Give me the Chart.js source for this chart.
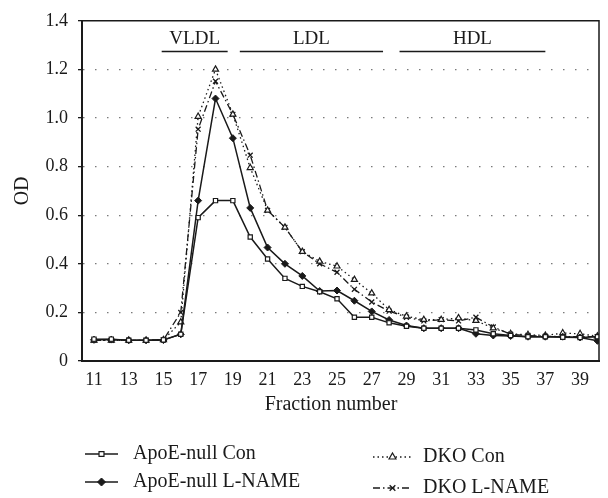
<!DOCTYPE html>
<html>
<head>
<meta charset="utf-8">
<script src="https://cdn.jsdelivr.net/npm/chart.js@4.4.0/dist/chart.umd.min.js"></script>
<style>
  html, body { margin: 0; padding: 0; background: #fff; }
  #wrap { width: 608px; height: 498px; }
</style>
</head>
<body>
<div id="wrap"><canvas id="odChart" width="608" height="498"></canvas></div>
<script>
// fraction numbers (x) and OD values
const fractions = [11, 12, 13, 14, 15, 16, 17, 18, 19, 20, 21, 22, 23, 24, 25, 26, 27, 28, 29, 30, 31, 32, 33, 34, 35, 36, 37, 38, 39, 40];
const apoeCon   = [0.090, 0.090, 0.085, 0.085, 0.087, 0.110, 0.590, 0.660, 0.660, 0.510, 0.420, 0.340, 0.307, 0.285, 0.256, 0.180, 0.180, 0.157, 0.143, 0.135, 0.135, 0.135, 0.128, 0.112, 0.105, 0.100, 0.100, 0.098, 0.097, 0.100];
const apoeLname = [0.087, 0.088, 0.085, 0.085, 0.086, 0.110, 0.660, 1.080, 0.917, 0.630, 0.467, 0.400, 0.350, 0.288, 0.290, 0.248, 0.204, 0.169, 0.146, 0.135, 0.135, 0.135, 0.112, 0.105, 0.103, 0.100, 0.100, 0.100, 0.097, 0.083];
const dkoCon    = [0.085, 0.085, 0.085, 0.085, 0.087, 0.160, 1.006, 1.200, 1.015, 0.795, 0.620, 0.550, 0.450, 0.410, 0.390, 0.335, 0.279, 0.211, 0.184, 0.170, 0.170, 0.177, 0.166, 0.135, 0.112, 0.108, 0.105, 0.115, 0.112, 0.102];
const dkoLname  = [0.085, 0.085, 0.085, 0.085, 0.087, 0.200, 0.954, 1.151, 1.015, 0.847, 0.620, 0.550, 0.450, 0.400, 0.365, 0.295, 0.243, 0.205, 0.180, 0.165, 0.170, 0.165, 0.180, 0.140, 0.110, 0.105, 0.102, 0.100, 0.100, 0.100];

const xTickLabels = [11, 13, 15, 17, 19, 21, 23, 25, 27, 29, 31, 33, 35, 37, 39];
const yTickLabels = [0, 0.2, 0.4, 0.6, 0.8, 1.0, 1.2, 1.4];

// lipoprotein bands over the peak (fraction ranges)
const bandNames = ['VLDL', 'LDL', 'HDL'];
const bandFrom  = [14.9, 19.4, 28.6];
const bandTo    = [18.7, 27.65, 37.0];

const serif = '"Liberation Serif", "DejaVu Serif", serif';
const ink = '#1a1a1a';

const toPoints = vals => vals.map((v, i) => ({ x: fractions[i], y: v }));

// legend slots: [sample start, sample end, text x, row y]
const legendSlots = [
    [85, 118, 133, 454],
    [85, 118, 133, 482],
    [373, 412, 423, 457],
    [373, 412, 423, 488]
];

const extras = {
    id: 'extras',
    afterDraw(chart) {
        const { ctx, chartArea: a, scales } = chart;
        const xs = scales.x, ys = scales.y;
        ctx.save();

        // top and right frame
        ctx.strokeStyle = ink;
        ctx.lineWidth = 1.5;
        ctx.beginPath();
        ctx.moveTo(a.left, a.top);
        ctx.lineTo(a.right, a.top);
        ctx.lineTo(a.right, a.bottom);
        ctx.stroke();

        // band labels
        ctx.font = '19px ' + serif;
        ctx.fillStyle = ink;
        ctx.textAlign = 'center';
        ctx.textBaseline = 'middle';
        bandNames.forEach((name, i) => {
            const x1 = xs.getPixelForValue(bandFrom[i]);
            const x2 = xs.getPixelForValue(bandTo[i]);
            const yl = ys.getPixelForValue(1.274);
            ctx.beginPath();
            ctx.moveTo(x1, yl);
            ctx.lineTo(x2, yl);
            ctx.stroke();
            ctx.fillText(name, (x1 + x2) / 2, ys.getPixelForValue(1.324));
        });

        // axis titles
        ctx.font = '20px ' + serif;
        ctx.fillText('Fraction number', 331, 405);
        ctx.save();
        ctx.translate(23, (a.top + a.bottom) / 2);
        ctx.rotate(-Math.PI / 2);
        ctx.fillText('OD', 0, 0);
        ctx.restore();

        // legend
        ctx.textAlign = 'left';
        chart.data.datasets.forEach((ds, i) => {
            const [s1, s2, tx, ty] = legendSlots[i];
            ctx.strokeStyle = ink;
            ctx.lineWidth = ds.borderWidth;
            ctx.setLineDash(ds.borderDash || []);
            ctx.beginPath();
            ctx.moveTo(s1, ty);
            ctx.lineTo(s2, ty);
            ctx.stroke();
            ctx.setLineDash([]);
            ctx.fillStyle = ds.pointBackgroundColor;
            ctx.lineWidth = ds.pointBorderWidth;
            Chart.helpers.drawPoint(ctx, {
                pointStyle: ds.pointStyle,
                radius: ds.pointRadius + 0.5,
                rotation: 0,
                borderWidth: ds.pointBorderWidth
            }, (s1 + s2) / 2, ty);
            ctx.fillStyle = ink;
            ctx.font = '20px ' + serif;
            ctx.fillText(ds.label, tx, ty);
        });

        ctx.restore();
    }
};

const ctx = document.getElementById('odChart').getContext('2d');

new Chart(ctx, {
    type: 'line',
    data: {
        datasets: [
            {
                label: 'ApoE-null Con',
                data: toPoints(apoeCon),
                borderColor: ink,
                borderWidth: 1.5,
                pointStyle: 'rect',
                pointRadius: 3,
                pointBackgroundColor: '#fff',
                pointBorderColor: ink,
                pointBorderWidth: 1.2
            },
            {
                label: 'ApoE-null L-NAME',
                data: toPoints(apoeLname),
                borderColor: ink,
                borderWidth: 1.5,
                pointStyle: 'rectRot',
                pointRadius: 3.5,
                pointBackgroundColor: ink,
                pointBorderColor: ink,
                pointBorderWidth: 1
            },
            {
                label: 'DKO Con',
                data: toPoints(dkoCon),
                borderColor: ink,
                borderWidth: 1.3,
                borderDash: [1.5, 3],
                pointStyle: 'triangle',
                pointRadius: 3.5,
                pointBackgroundColor: '#fff',
                pointBorderColor: ink,
                pointBorderWidth: 1.2
            },
            {
                label: 'DKO L-NAME',
                data: toPoints(dkoLname),
                borderColor: ink,
                borderWidth: 1.3,
                borderDash: [7, 3, 1.5, 3],
                pointStyle: 'crossRot',
                pointRadius: 3.5,
                pointBackgroundColor: ink,
                pointBorderColor: ink,
                pointBorderWidth: 1.3
            }
        ]
    },
    options: {
        responsive: false,
        animation: false,
        devicePixelRatio: 1,
        layout: { padding: { top: 16, right: 9, left: 0, bottom: 0 } },
        plugins: {
            legend: { display: false },
            tooltip: { enabled: false }
        },
        scales: {
            x: {
                type: 'linear',
                min: 10.31,
                max: 40.09,
                afterBuildTicks: scale => {
                    scale.ticks = xTickLabels.map(v => ({ value: v }));
                },
                afterFit: scale => { scale.height = 137; },
                grid: { display: false, drawTicks: false },
                border: { display: true, color: ink, width: 2 },
                ticks: {
                    autoSkip: false,
                    maxRotation: 0,
                    padding: 8,
                    color: ink,
                    font: { family: serif, size: 18 },
                    callback: v => String(v)
                }
            },
            y: {
                min: 0,
                max: 1.4,
                afterBuildTicks: scale => {
                    scale.ticks = yTickLabels.map(v => ({ value: v }));
                },
                afterFit: scale => { scale.width = 82; },
                grid: {
                    color: c => (c.tick && c.tick.value > 0 && c.tick.value < 1.4) ? '#7a7a7a' : 'rgba(0,0,0,0)',
                    lineWidth: 1.3,
                    tickColor: ink,
                    tickBorderDash: [],
                    tickLength: 4,
                    tickWidth: 1.3
                },
                border: { display: true, color: ink, width: 2, dash: [1.5, 10.5] },
                ticks: {
                    padding: 10,
                    color: ink,
                    font: { family: serif, size: 18 },
                    callback: v => v === 0 ? '0' : v.toFixed(1)
                }
            }
        }
    },
    plugins: [extras]
});
</script>
</body>
</html>
